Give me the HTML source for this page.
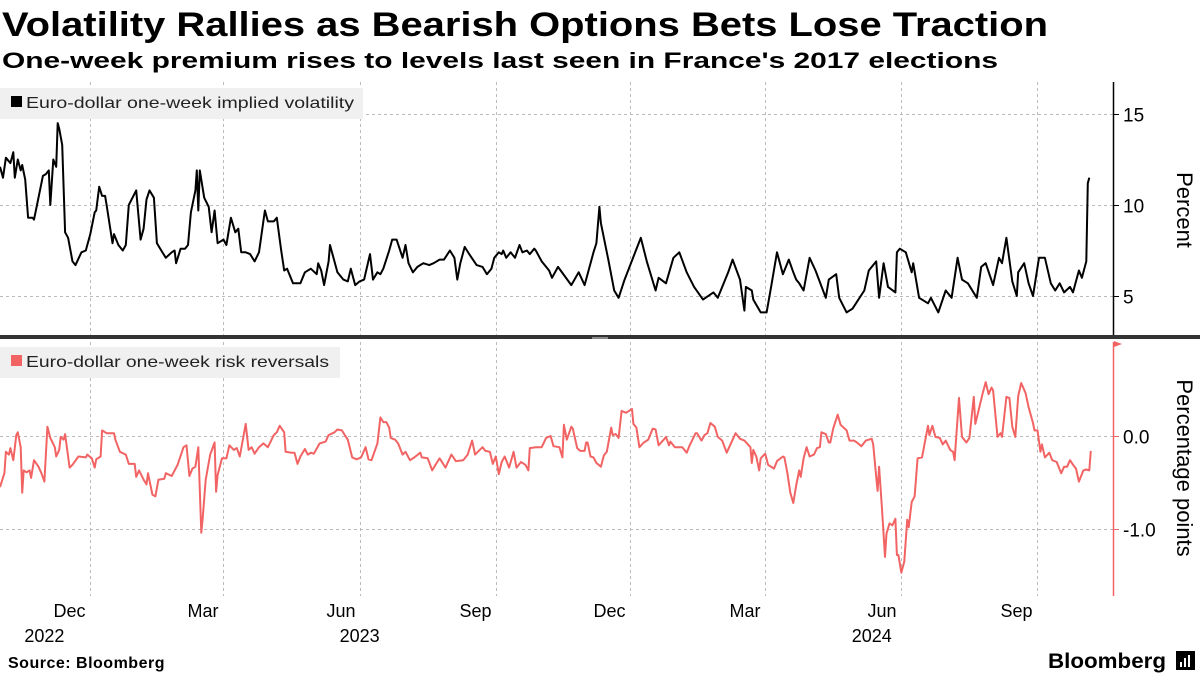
<!DOCTYPE html>
<html><head><meta charset="utf-8"><style>
html,body{margin:0;padding:0;background:#fff;}
svg{display:block;font-family:"Liberation Sans","DejaVu Sans",sans-serif;}
</style></head><body>
<svg id="chart" width="1200" height="675" viewBox="0 0 1200 675" xmlns="http://www.w3.org/2000/svg">
<text x="2" y="36" font-size="34" font-weight="bold" fill="#000" textLength="1046" lengthAdjust="spacingAndGlyphs">Volatility Rallies as Bearish Options Bets Lose Traction</text>
<text x="2" y="68" font-size="22" font-weight="bold" fill="#000" textLength="996" lengthAdjust="spacingAndGlyphs">One-week premium rises to levels last seen in France's 2017 elections</text>
<g id="grid"></g>
<rect x="0" y="88" width="363" height="31" fill="#f0f0f0"/>
<rect x="11" y="96" width="11" height="11" fill="#000"/>
<text x="26" y="108" font-size="16" fill="#222" textLength="328" lengthAdjust="spacingAndGlyphs">Euro-dollar one-week implied volatility</text>
<rect x="0" y="347" width="340" height="31" fill="#f0f0f0"/>
<rect x="11" y="355" width="11" height="11" fill="#f26464"/>
<text x="26" y="367" font-size="16" fill="#222" textLength="303" lengthAdjust="spacingAndGlyphs">Euro-dollar one-week risk reversals</text>
<g id="series"></g>
<rect x="0" y="335" width="1200" height="4" fill="#333"/>
<rect x="592" y="337" width="16" height="2" fill="#888"/>
<line x1="1113.5" y1="82" x2="1113.5" y2="335" stroke="#000" stroke-width="1.5"/>
<line x1="1113.5" y1="342" x2="1113.5" y2="596" stroke="#f26464" stroke-width="1.5"/>
<polygon points="1114,341 1122,344 1114,347" fill="#f26464"/>
<g id="axes"></g>
<text transform="translate(1177,210) rotate(90)" text-anchor="middle" font-size="22" fill="#000">Percent</text>
<text transform="translate(1177,468) rotate(90)" text-anchor="middle" font-size="22" fill="#000">Percentage points</text>
<text x="8" y="668" font-size="16" font-weight="bold" fill="#000" letter-spacing="0.5">Source: Bloomberg</text>
<text x="1048" y="668" font-size="21" font-weight="bold" fill="#000" textLength="118" lengthAdjust="spacingAndGlyphs">Bloomberg</text>
<rect x="1176" y="651" width="19" height="19" fill="#000"/>
<rect x="1180" y="662" width="2" height="5" fill="#fff"/><rect x="1184" y="658" width="2" height="9" fill="#fff"/><rect x="1188" y="655" width="2" height="12" fill="#fff"/>
</svg>
<script>
// ---- data ----
const START = Date.UTC(2022,9,1); // day 0 = 2022-10-01
const volDays = [0,2,4,7,9,10,12,14,15,17,19,22,23,25,29,31,33,34,36,38,39,40,42,44,46,49,51,55,58,61,64,65,67,69,71,72,76,77,80,83,85,87,92,95,97,99,101,104,106,109,112,116,118,119,122,125,127,129,132,133,134,135,138,141,143,145,147,151,153,156,159,161,163,166,169,172,175,179,181,185,187,190,192,194,198,203,206,210,214,215,217,219,222,223,224,228,232,235,237,240,243,246,250,252,255,257,259,263,265,268,270,272,274,276,279,282,286,290,293,297,300,304,307,309,311,314,317,322,326,329,332,334,337,339,340,342,345,348,351,353,356,358,361,362,366,371,373,377,386,391,395,401,403,405,406,411,415,418,422,433,437,443,445,450,455,459,464,469,475,482,485,492,495,500,503,504,508,509,514,518,521,525,529,533,536,538,540,543,547,551,558,560,565,567,572,576,584,587,592,594,597,600,605,606,608,612,616,617,621,627,629,634,639,643,647,650,654,660,663,666,671,675,677,680,684,687,688,692,695,698,702,706,710,713,716,719,723,725,729,731,734,735,736];
const volValues = [12.1,11.5,12.6,12.3,12.9,11.5,12.5,11.9,12.2,11.4,9.3,9.3,9.2,10.0,11.6,11.7,11.9,10.0,12.5,12.1,14.5,14.2,13.3,8.5,8.2,6.9,6.7,7.4,7.5,8.4,9.6,9.7,11.0,10.5,10.5,10.0,7.9,8.4,7.8,7.5,7.8,10.0,10.8,8.1,8.7,10.3,10.8,10.4,7.9,7.5,7.1,7.4,7.5,6.8,7.6,7.6,7.8,9.6,10.8,11.9,9.7,11.9,10.4,9.9,8.5,9.7,7.9,8.1,7.8,9.3,8.5,8.7,7.4,7.4,7.3,6.9,7.4,9.7,9.1,9.1,9.3,7.5,6.4,6.5,5.7,5.7,6.3,6.5,6.2,6.8,6.4,5.6,6.9,7.8,7.5,6.3,5.9,5.8,6.5,5.6,5.8,5.9,7.3,5.9,6.3,6.2,6.5,7.5,8.1,8.1,7.6,7.1,7.8,6.8,6.3,6.6,6.8,6.7,6.8,7.0,7.0,7.5,7.1,5.9,6.8,7.7,7.3,6.7,6.6,6.2,6.5,7.1,7.4,7.3,7.5,7.1,7.4,7.1,7.8,7.4,7.5,7.3,7.6,7.5,6.9,6.4,6.0,6.6,5.6,6.3,5.6,7.4,7.9,9.9,9.0,7.0,5.3,4.9,5.9,8.2,6.9,5.3,6.0,5.7,7.1,7.4,6.3,5.5,4.8,5.2,4.9,6.3,7.0,5.9,4.2,5.5,5.3,4.8,4.1,4.1,5.5,7.4,6.2,7.0,6.3,5.9,5.7,5.3,7.1,6.4,4.9,5.9,6.2,4.9,4.1,4.3,5.3,6.4,6.9,4.9,6.8,5.5,5.2,7.4,7.6,7.4,6.3,6.8,4.9,4.6,4.9,4.1,5.3,4.9,7.1,5.9,5.7,4.9,6.6,6.8,5.6,7.1,6.8,8.2,5.8,5.0,6.3,6.8,5.7,5.0,7.1,7.1,5.7,5.3,5.7,5.2,5.5,5.2,6.4,6.0,6.9,11.2,11.5];
const rrDays = [0,3,4,6,7,9,11,12,14,15,16,18,20,21,23,26,28,30,32,34,37,38,40,41,43,44,47,49,53,58,59,62,64,65,68,69,72,77,78,81,85,87,91,92,94,97,99,100,103,105,107,111,112,116,120,124,126,128,130,132,134,136,137,139,142,145,146,147,150,153,155,158,160,162,166,168,170,172,175,178,181,185,187,189,192,193,197,199,201,203,206,208,210,212,216,220,222,226,228,231,233,235,238,241,244,247,249,251,255,257,259,261,263,264,267,269,272,274,277,280,284,285,289,292,295,297,301,305,308,313,316,319,321,326,328,331,333,335,337,339,341,344,347,349,352,355,357,358,362,366,369,372,374,378,380,381,383,386,387,390,392,395,396,397,399,401,403,406,408,410,413,414,416,418,420,423,427,428,430,432,435,438,441,443,445,449,450,452,453,456,461,464,466,470,471,474,476,478,480,483,485,488,491,497,500,503,507,508,509,511,513,514,517,519,523,525,529,530,532,534,536,538,540,541,543,545,547,550,552,554,555,558,560,561,563,566,568,572,574,577,579,582,585,589,590,592,593,594,596,598,599,601,603,605,606,607,609,611,613,614,616,618,620,623,625,627,628,630,632,635,637,639,642,644,645,648,650,653,655,658,659,661,664,666,668,670,671,674,676,677,680,682,684,686,688,690,693,695,698,699,701,703,704,706,709,711,714,717,719,721,723,725,727,729,732,734,736,737];
const rrValues = [-0.55,-0.40,-0.17,-0.20,-0.13,-0.26,0.01,0.04,-0.12,-0.61,-0.37,-0.39,-0.37,-0.45,-0.26,-0.33,-0.40,-0.49,0.10,-0.02,-0.12,-0.22,-0.15,-0.01,-0.04,0.02,-0.34,-0.31,-0.22,-0.23,-0.20,-0.24,-0.34,-0.25,-0.22,0.06,0.03,0.03,-0.04,-0.17,-0.20,-0.30,-0.30,-0.44,-0.37,-0.47,-0.52,-0.40,-0.63,-0.65,-0.47,-0.46,-0.40,-0.43,-0.31,-0.12,-0.10,-0.43,-0.35,-0.33,-0.12,-1.04,-0.87,-0.47,-0.20,-0.07,-0.60,-0.42,-0.24,-0.24,-0.10,-0.15,-0.13,-0.22,0.13,-0.15,-0.12,-0.19,-0.12,-0.08,-0.12,0.01,0.04,0.11,0.04,-0.17,-0.18,-0.18,-0.30,-0.22,-0.14,-0.20,-0.18,-0.19,-0.08,-0.06,0.01,0.04,0.07,0.06,0.01,-0.04,-0.23,-0.25,-0.23,-0.12,-0.25,-0.26,-0.08,0.20,0.15,0.15,0.09,-0.02,-0.04,-0.08,-0.20,-0.17,-0.26,-0.23,-0.18,-0.23,-0.24,-0.37,-0.29,-0.24,-0.34,-0.20,-0.27,-0.26,-0.20,-0.05,-0.20,-0.12,-0.16,-0.17,-0.30,-0.22,-0.41,-0.28,-0.22,-0.34,-0.17,-0.34,-0.28,-0.31,-0.37,-0.13,-0.12,-0.12,-0.02,0.00,-0.11,-0.12,-0.23,0.12,-0.04,0.10,0.08,-0.13,-0.16,-0.16,-0.07,-0.07,-0.22,-0.23,-0.29,-0.33,-0.21,-0.17,0.09,0.01,0.02,-0.02,0.27,0.25,0.29,0.13,0.09,-0.12,-0.07,-0.04,0.08,0.07,-0.10,-0.03,-0.01,-0.10,-0.06,-0.12,-0.12,-0.18,-0.10,0.03,0.03,-0.05,0.01,0.03,0.14,0.10,-0.01,-0.05,-0.18,0.03,-0.03,-0.05,-0.12,-0.29,-0.15,-0.22,-0.37,-0.24,-0.19,-0.31,-0.35,-0.27,-0.22,-0.23,-0.40,-0.61,-0.72,-0.53,-0.37,-0.44,-0.24,-0.12,-0.22,-0.20,-0.13,-0.12,0.04,0.02,-0.07,-0.07,0.08,0.23,0.12,0.06,-0.05,-0.05,-0.07,-0.11,-0.05,-0.03,-0.09,-0.44,-0.59,-0.33,-0.80,-1.30,-1.05,-0.94,-0.96,-0.89,-1.28,-1.28,-1.47,-1.35,-0.90,-0.98,-0.71,-0.65,-0.24,-0.23,-0.06,0.11,0.01,0.11,-0.01,-0.02,-0.09,-0.05,-0.15,-0.17,-0.26,0.41,-0.01,-0.07,-0.02,0.42,0.13,0.26,0.46,0.58,0.45,0.52,0.49,-0.01,0.03,-0.01,0.42,0.41,0.10,-0.01,0.43,0.57,0.46,0.31,0.14,0.06,0.06,-0.17,-0.09,-0.23,-0.18,-0.26,-0.28,-0.40,-0.33,-0.33,-0.26,-0.31,-0.35,-0.49,-0.37,-0.36,-0.37,-0.16];
const volTicks = [5,10,15];
const volTickLabels = ["5","10","15"];
const rrTicks = [-1,0];
const rrTickLabels = ["-1.0","0.0"];
const monthTicks = ["2022-12-01","2023-03-01","2023-06-01","2023-09-01","2023-12-01","2024-03-01","2024-06-01","2024-09-01"];
const monthLabels = ["Dec","Mar","Jun","Sep","Dec","Mar","Jun","Sep"];
const yearLabels = ["2022","2023","2024"];
const yearAnchors = ["2022-10-31","2023-06-01","2024-05-12"];

// ---- scales ----
const PX_PER_DAY = 1.48;
function xDay(d){ return d*PX_PER_DAY; }
function xDate(s){ return xDay((Date.parse(s+"T00:00:00Z")-START)/86400000); }
function yVol(v){ return 205 - (v-10)*18.2; }
function yRR(v){ return 436 - v*93; }

const NS="http://www.w3.org/2000/svg";
function mk(tag, attrs, parent){
  const e=document.createElementNS(NS,tag);
  for(const k in attrs) e.setAttribute(k,attrs[k]);
  parent.appendChild(e); return e;
}
const grid=document.getElementById('grid');
const axes=document.getElementById('axes');
const series=document.getElementById('series');

monthTicks.forEach((m,i)=>{
  const x=Math.round(xDate(m))+0.5;
  const g1=mk('line',{x1:x,y1:82,x2:x,y2:335,stroke:'#bbb','stroke-width':1,'stroke-dasharray':'3,3'},grid);
  
  
  const g2=mk('line',{x1:x,y1:342,x2:x,y2:596,stroke:'#bbb','stroke-width':1,'stroke-dasharray':'3,3'},grid);
  
  
  const t=mk('text',{x:x-5,y:617,'text-anchor':'end','font-size':18,fill:'#000'},axes);
  t.textContent=monthLabels[i];
  
  
});
yearLabels.forEach((y,i)=>{
  const t=mk('text',{x:xDate(yearAnchors[i]),y:642,'text-anchor':'middle','font-size':18,fill:'#000'},axes);
  t.textContent=y;
  
  
});
volTicks.forEach((v,i)=>{
  const y=Math.round(yVol(v))+0.5;
  const g=mk('line',{x1:0,y1:y,x2:1113,y2:y,stroke:'#bbb','stroke-width':1,'stroke-dasharray':'3,3'},grid);
  
  
  const tk=mk('line',{x1:1113,y1:y,x2:1119,y2:y,stroke:'#000','stroke-width':1},axes);
  
  
  const t=mk('text',{x:1123,y:y+7,'font-size':19,fill:'#000'},axes);
  t.textContent=volTickLabels[i];
  
  
});
rrTicks.forEach((v,i)=>{
  const y=Math.round(yRR(v))+0.5;
  const g=mk('line',{x1:0,y1:y,x2:1113,y2:y,stroke:'#bbb','stroke-width':1,'stroke-dasharray':'3,3'},grid);
  
  
  const tk=mk('line',{x1:1113,y1:y,x2:1119,y2:y,stroke:'#f26464','stroke-width':1},axes);
  
  
  const t=mk('text',{x:1123,y:y+7,'font-size':19,fill:'#000'},axes);
  t.textContent=rrTickLabels[i];
  
  
});
function pathFrom(days, vals, yf){
  return days.map((d,i)=>(i?'L':'M')+xDay(d).toFixed(1)+','+yf(vals[i]).toFixed(1)).join(' ');
}
const vl=mk('path',{d:pathFrom(volDays,volValues,yVol),fill:'none',stroke:'#000','stroke-width':2,'stroke-linejoin':'round'},series);


const rl=mk('path',{d:pathFrom(rrDays,rrValues,yRR),fill:'none',stroke:'#f26464','stroke-width':2,'stroke-linejoin':'round'},series);


</script>
</body></html>
